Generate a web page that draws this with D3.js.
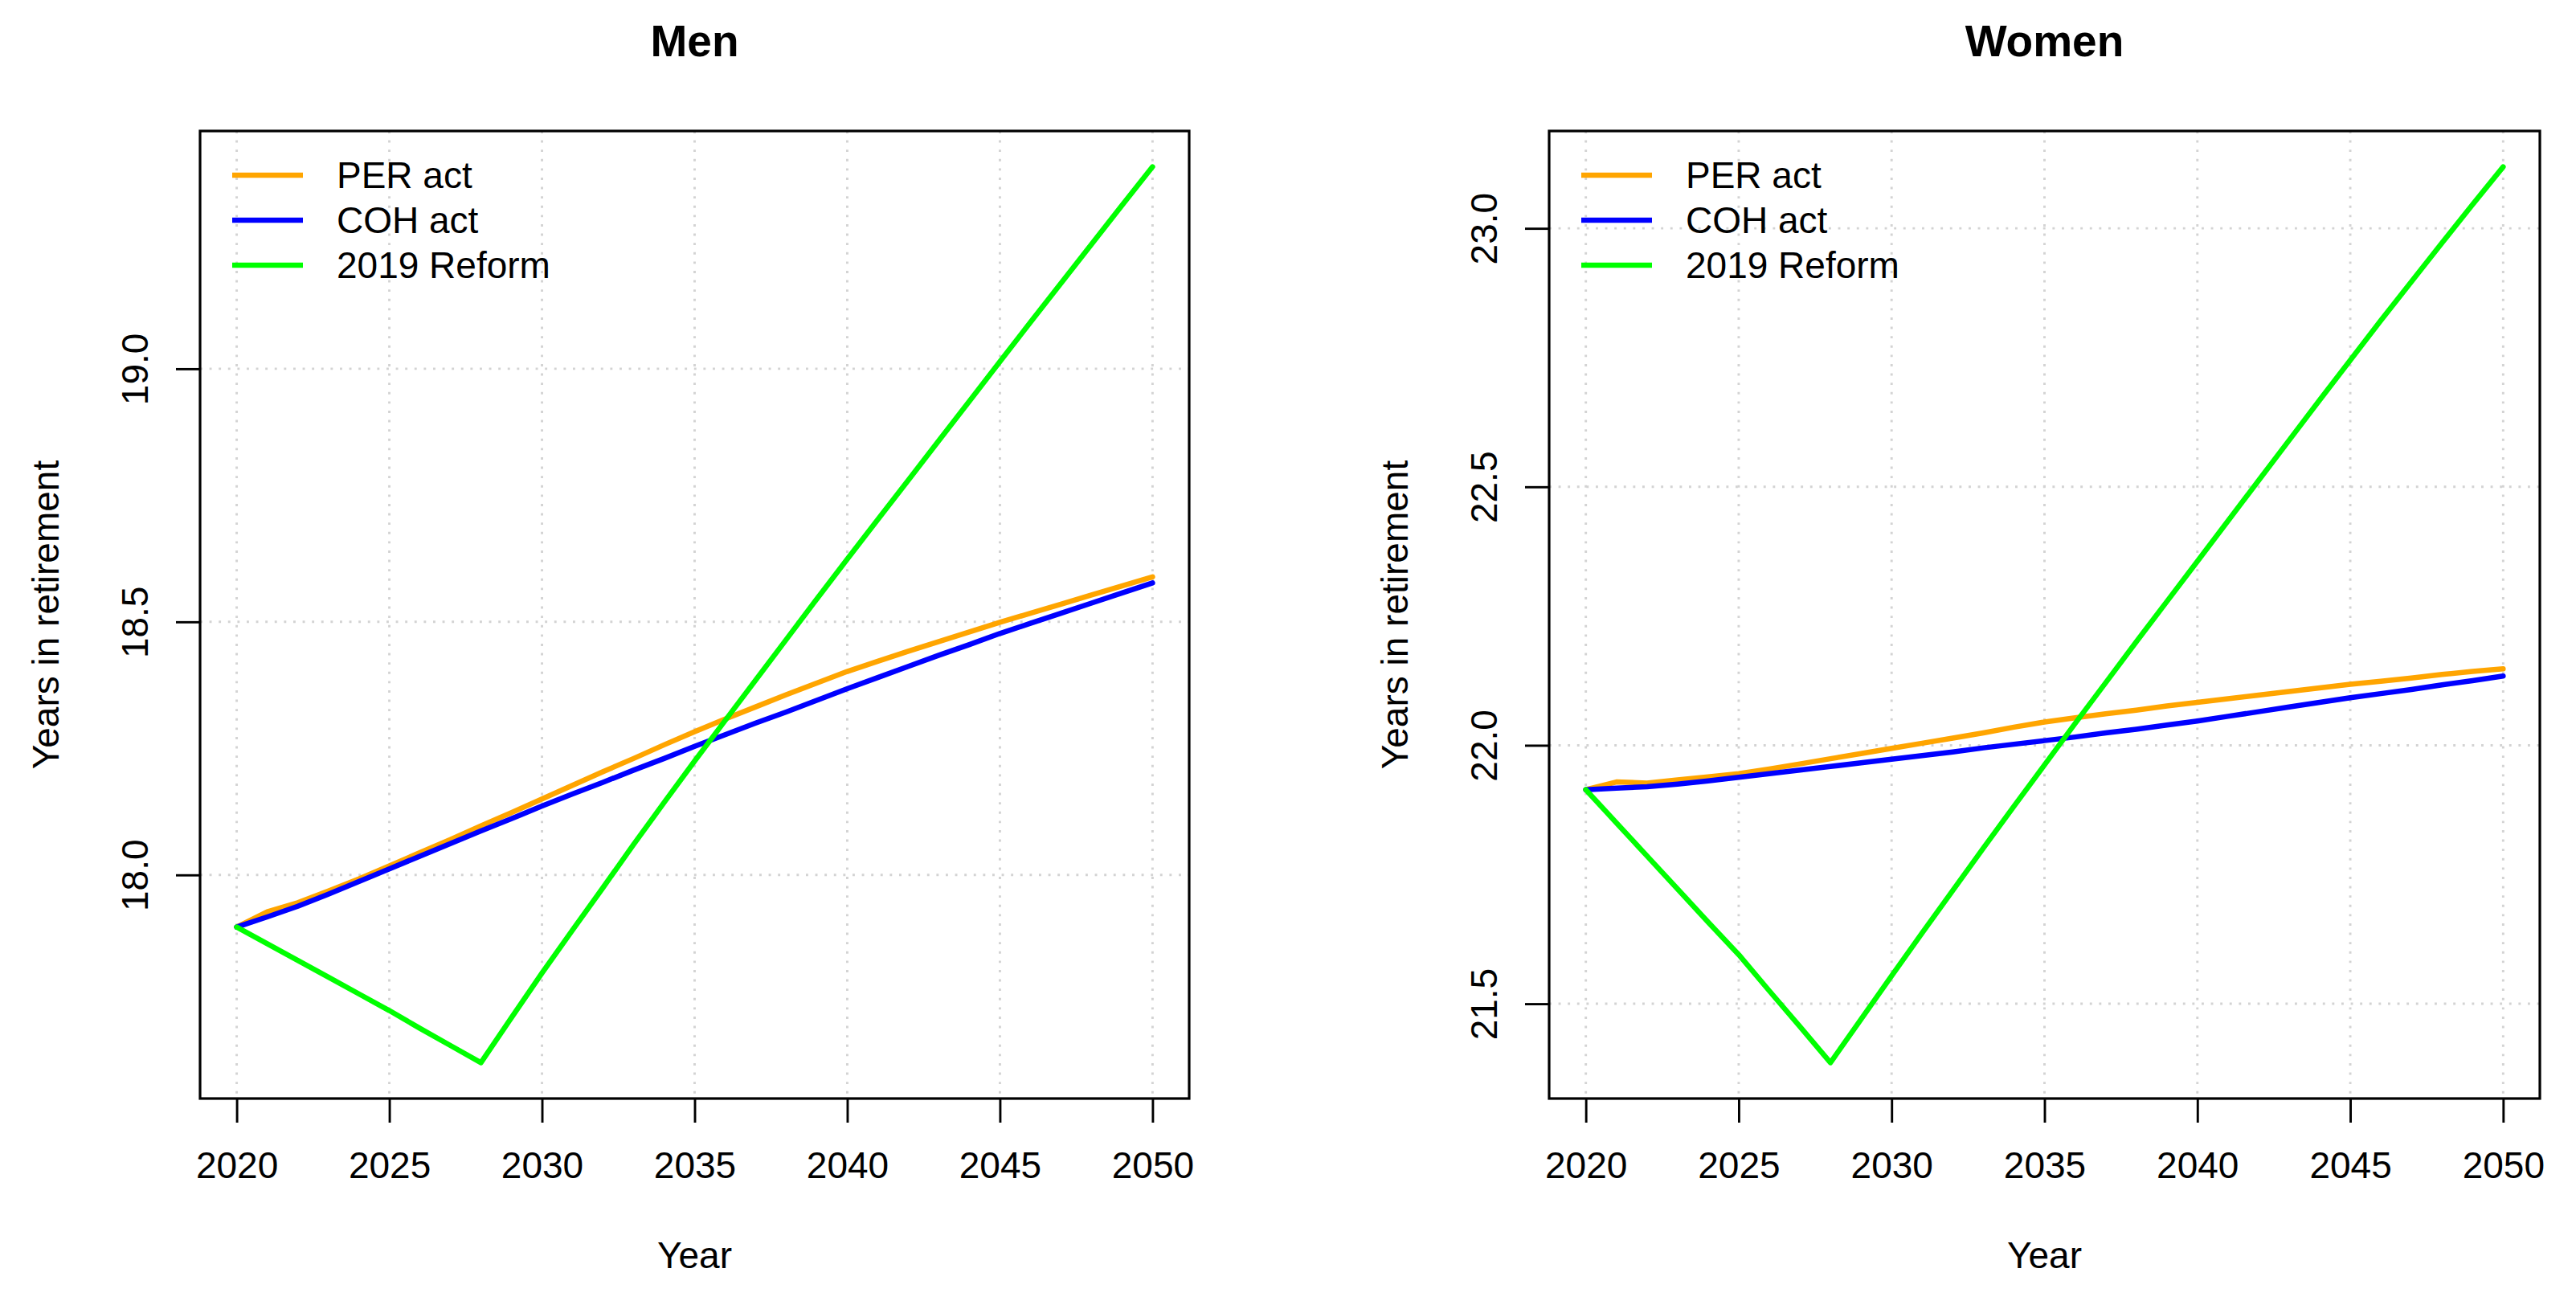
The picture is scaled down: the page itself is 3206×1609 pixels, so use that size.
<!DOCTYPE html>
<html>
<head>
<meta charset="utf-8">
<script src="https://cdn.jsdelivr.net/npm/d3@7"></script>
<style>
  body { margin: 0; background: #fff; }
  svg { display: block; font-family: "Liberation Sans", Arial, Helvetica, sans-serif; }
</style>
</head>
<body>
<svg id="chart" width="3206" height="1609"></svg>
<script>
const years = [
  2020, 2021, 2022, 2023, 2024, 2025, 2026, 2027, 2028, 2029, 2030,
  2031, 2032, 2033, 2034, 2035, 2036, 2037, 2038, 2039, 2040,
  2041, 2042, 2043, 2044, 2045, 2046, 2047, 2048, 2049, 2050,
];

const menPER = [
  17.897, 17.927, 17.945, 17.968, 17.992, 18.018, 18.044, 18.070, 18.097, 18.123, 18.150,
  18.177, 18.204, 18.230, 18.257, 18.283, 18.308, 18.332, 18.356, 18.379, 18.402,
  18.422, 18.442, 18.461, 18.480, 18.499, 18.517, 18.535, 18.553, 18.571, 18.589,
];
const menCOH = [
  17.897, 17.917, 17.938, 17.962, 17.987, 18.012, 18.037, 18.062, 18.087, 18.111, 18.136,
  18.160, 18.183, 18.207, 18.230, 18.254, 18.277, 18.300, 18.322, 18.345, 18.368,
  18.390, 18.412, 18.434, 18.455, 18.477, 18.497, 18.517, 18.537, 18.557, 18.577,
];
const menReform = [
  17.897, 17.864, 17.831, 17.798, 17.765, 17.732, 17.697, 17.663, 17.629, 17.718, 17.806,
  17.891, 17.975, 18.060, 18.143, 18.225, 18.305, 18.385, 18.465, 18.545, 18.624,
  18.702, 18.780, 18.858, 18.936, 19.014, 19.092, 19.169, 19.246, 19.323, 19.399,
];

const womenPER = [
  21.914, 21.929, 21.927, 21.933, 21.939, 21.945, 21.954, 21.964, 21.974, 21.984, 21.994,
  22.004, 22.014, 22.024, 22.035, 22.045, 22.053, 22.061, 22.068, 22.076, 22.083,
  22.090, 22.097, 22.104, 22.111, 22.118, 22.124, 22.130, 22.137, 22.143, 22.148,
];
const womenCOH = [
  21.914, 21.917, 21.920, 21.925, 21.931, 21.938, 21.945, 21.952, 21.959, 21.966, 21.973,
  21.980, 21.987, 21.995, 22.002, 22.009, 22.016, 22.024, 22.031, 22.039, 22.047,
  22.056, 22.065, 22.074, 22.083, 22.092, 22.100, 22.108, 22.117, 22.125, 22.134,
];
const womenReform = [
  21.914, 21.850, 21.786, 21.722, 21.658, 21.595, 21.525, 21.456, 21.386, 21.470, 21.554,
  21.637, 21.719, 21.801, 21.882, 21.962, 22.042, 22.121, 22.200, 22.278, 22.356,
  22.434, 22.512, 22.590, 22.668, 22.745, 22.822, 22.897, 22.972, 23.046, 23.119,
];

const xTicks = [2020, 2025, 2030, 2035, 2040, 2045, 2050];
const menYTicks = [18.0, 18.5, 19.0];
const womenYTicks = [21.5, 22.0, 22.5, 23.0];

const seriesNames = ["PER act", "COH act", "2019 Reform"];
const seriesColors = ["#ffa500", "#0000ff", "#00ff00"];

const svg = d3.select("#chart");
svg.append("rect").attr("width", 3206).attr("height", 1609).attr("fill", "#fff");

const FONT = 46;
const plotTop = 163;
const plotBottom = 1367;

const drawPanel = (opts) => {
  const {left, right, title, series, yTicks} = opts;

  // R style axes: 4% padding on both ends of the data range
  const xPad = (d3.max(years) - d3.min(years)) * 0.04;
  const x = d3
    .scaleLinear()
    .domain([d3.min(years) - xPad, d3.max(years) + xPad])
    .range([left, right]);

  const all = series.flat();
  const [lo, hi] = d3.extent(all);
  const yPad = (hi - lo) * 0.04;
  const y = d3
    .scaleLinear()
    .domain([lo - yPad, hi + yPad])
    .range([plotBottom, plotTop]);

  const g = svg.append("g");

  // dotted grid
  const grid = g.append("g")
    .attr("stroke", "#d3d3d3")
    .attr("stroke-width", 2.9)
    .attr("stroke-dasharray", "2.9 8.7");
  grid.selectAll("line.v")
    .data(xTicks)
    .enter()
    .append("line")
    .attr("x1", (d) => x(d))
    .attr("x2", (d) => x(d))
    .attr("y1", plotTop)
    .attr("y2", plotBottom);
  grid.selectAll("line.h")
    .data(yTicks)
    .enter()
    .append("line")
    .attr("x1", left)
    .attr("x2", right)
    .attr("y1", (d) => y(d))
    .attr("y2", (d) => y(d));

  // series lines
  const line = d3
    .line()
    .x((d, i) => x(years[i]))
    .y((d) => y(d));

  series.forEach((values, i) => {
    g.append("path")
      .datum(values)
      .attr("fill", "none")
      .attr("stroke", seriesColors[i])
      .attr("stroke-width", 6.5)
      .attr("stroke-linejoin", "round")
      .attr("stroke-linecap", "round")
      .attr("d", line);
  });

  // box
  g.append("rect")
    .attr("x", left)
    .attr("y", plotTop)
    .attr("width", right - left)
    .attr("height", plotBottom - plotTop)
    .attr("fill", "none")
    .attr("stroke", "#000")
    .attr("stroke-width", 3.2);

  // x axis
  const xAxis = g.append("g")
    .attr("transform", `translate(0,${plotBottom})`)
    .call(d3.axisBottom(x).tickValues(xTicks).tickSize(30).tickPadding(36).tickFormat(d3.format("d")));
  xAxis.select(".domain").remove();
  xAxis.selectAll(".tick line").attr("stroke", "#000").attr("stroke-width", 2.9);
  xAxis.selectAll(".tick text")
    .attr("fill", "#000")
    .attr("font-size", FONT)
    .attr("font-family", "Liberation Sans, Arial, sans-serif");

  // y axis, labels rotated like R's default las = 0
  const yAxis = g.append("g")
    .attr("transform", `translate(${left},0)`)
    .call(d3.axisLeft(y).tickValues(yTicks).tickSize(30).tickFormat(d3.format(".1f")));
  yAxis.select(".domain").remove();
  yAxis.selectAll(".tick line").attr("stroke", "#000").attr("stroke-width", 2.9);
  yAxis.selectAll(".tick text")
    .attr("x", null)
    .attr("dy", null)
    .attr("transform", "translate(-65,0) rotate(-90)")
    .attr("text-anchor", "middle")
    .attr("fill", "#000")
    .attr("font-size", FONT)
    .attr("font-family", "Liberation Sans, Arial, sans-serif");

  // title and axis labels
  const cx = (left + right) / 2;
  g.append("text")
    .attr("x", cx)
    .attr("y", 70)
    .attr("text-anchor", "middle")
    .attr("font-weight", "bold")
    .attr("font-size", 55)
    .text(title);

  g.append("text")
    .attr("x", cx)
    .attr("y", 1578)
    .attr("text-anchor", "middle")
    .attr("font-size", FONT)
    .text("Year");

  g.append("text")
    .attr("transform", `translate(${left - 176},${(plotTop + plotBottom) / 2}) rotate(-90)`)
    .attr("text-anchor", "middle")
    .attr("font-size", FONT)
    .text("Years in retirement");

  // legend (no box)
  const legend = g.append("g").attr("transform", `translate(${left},218)`);
  seriesNames.forEach((name, i) => {
    const row = legend.append("g").attr("transform", `translate(0,${i * 56})`);
    row.append("line")
      .attr("x1", 40)
      .attr("x2", 128)
      .attr("stroke", seriesColors[i])
      .attr("stroke-width", 6.5);
    row.append("text")
      .attr("x", 170)
      .attr("y", 16)
      .attr("font-size", FONT)
      .text(name);
  });
};

drawPanel({
  left: 249,
  right: 1480,
  title: "Men",
  series: [menPER, menCOH, menReform],
  yTicks: menYTicks,
});

drawPanel({
  left: 1928,
  right: 3161,
  title: "Women",
  series: [womenPER, womenCOH, womenReform],
  yTicks: womenYTicks,
});
</script>
</body>
</html>
